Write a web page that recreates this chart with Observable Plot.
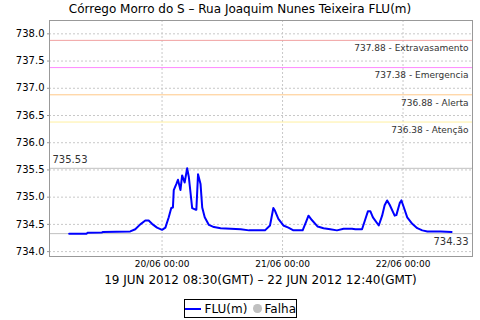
<!DOCTYPE html>
<html><head><meta charset="utf-8">
<script src="https://cdn.jsdelivr.net/npm/d3@7"></script>
<script src="https://cdn.jsdelivr.net/npm/@observablehq/plot@0.6"></script>
<style>
body{margin:0;background:#fff;font-family:"DejaVu Sans",sans-serif;color:#000}
#wrap{width:480px;height:320px;position:relative;overflow:hidden}
#title{height:18px;line-height:18px;text-align:center;font-size:12px}
#chart svg{display:block}
#sub{height:16px;line-height:16px;font-size:12px;text-align:center;width:423px;margin-left:49px}
#legend{position:absolute;left:184px;top:299px;width:111px;height:17px;border:1px solid #000;display:flex;align-items:center;justify-content:center;font-size:12px;gap:3px;box-sizing:content-box}
.dot{display:inline-block;width:9px;height:9px;border-radius:50%;background:#c0c0c0;margin-left:3px}
</style></head><body>
<div id="wrap">
<div id="title">Córrego Morro do S – Rua Joaquim Nunes Teixeira FLU(m)</div>
<div id="chart"></div>
<div id="sub">19 JUN 2012 08:30(GMT) – 22 JUN 2012 12:40(GMT)</div>
<div id="legend"><svg width="18" height="4"><line x1="0" y1="2" x2="18" y2="2" stroke="#0000ff" stroke-width="2"/></svg><span>FLU(m)</span><span class="dot"></span><span>Falha</span></div>
</div>
<script>
const times = ["2012-06-19T05:30","2012-06-19T09:00","2012-06-19T09:10","2012-06-19T12:00","2012-06-19T12:10","2012-06-19T17:40","2012-06-19T18:40","2012-06-19T19:40","2012-06-19T20:40","2012-06-19T21:20","2012-06-19T22:00","2012-06-19T23:00","2012-06-20T00:00","2012-06-20T00:40","2012-06-20T01:20","2012-06-20T01:50","2012-06-20T02:10","2012-06-20T02:20","2012-06-20T02:50","2012-06-20T03:10","2012-06-20T03:40","2012-06-20T04:00","2012-06-20T04:30","2012-06-20T05:00","2012-06-20T05:20","2012-06-20T06:00","2012-06-20T06:40","2012-06-20T06:50","2012-06-20T07:10","2012-06-20T07:40","2012-06-20T08:00","2012-06-20T08:30","2012-06-20T09:20","2012-06-20T10:20","2012-06-20T11:40","2012-06-20T13:40","2012-06-20T15:40","2012-06-20T17:20","2012-06-20T20:30","2012-06-20T21:30","2012-06-20T22:10","2012-06-20T22:30","2012-06-20T23:10","2012-06-21T00:10","2012-06-21T01:10","2012-06-21T02:10","2012-06-21T04:00","2012-06-21T04:40","2012-06-21T05:10","2012-06-21T05:50","2012-06-21T07:00","2012-06-21T08:10","2012-06-21T09:30","2012-06-21T10:50","2012-06-21T12:10","2012-06-21T13:50","2012-06-21T14:30","2012-06-21T15:50","2012-06-21T16:30","2012-06-21T17:00","2012-06-21T17:30","2012-06-21T18:00","2012-06-21T19:10","2012-06-21T19:50","2012-06-21T20:20","2012-06-21T20:50","2012-06-21T21:20","2012-06-21T22:20","2012-06-21T22:40","2012-06-21T23:20","2012-06-21T23:40","2012-06-22T00:10","2012-06-22T00:50","2012-06-22T01:50","2012-06-22T02:50","2012-06-22T03:50","2012-06-22T04:50","2012-06-22T07:30","2012-06-22T09:40"];
const levels = [734.33,734.33,734.345,734.35,734.36,734.37,734.41,734.50,734.57,734.57,734.51,734.44,734.40,734.44,734.63,734.80,734.81,735.13,735.24,735.32,735.13,735.40,735.27,735.53,735.37,734.80,734.77,734.77,735.42,735.24,734.81,734.63,734.49,734.45,734.43,734.42,734.41,734.39,734.39,734.48,734.80,734.75,734.60,734.48,734.44,734.39,734.39,734.54,734.66,734.58,734.46,734.43,734.41,734.39,734.42,734.42,734.41,734.41,734.60,734.74,734.74,734.63,734.48,734.66,734.85,734.94,734.86,734.66,734.67,734.89,734.94,734.81,734.63,734.51,734.43,734.39,734.37,734.37,734.36];
const thresholdValues = [737.88, 737.38, 736.88, 736.38];
const thresholdNames = ["Extravasamento", "Emergencia", "Alerta", "Atenção"];
const thresholdColors = ["#f0a0a0", "#ff88ff", "#ffc888", "#fff0a0"];
const maxValue = 735.53;
const minValue = 734.33;
const yTicks = [734.0, 734.5, 735.0, 735.5, 736.0, 736.5, 737.0, 737.5, 738.0];
const xTicks = ["2012-06-20T00:00", "2012-06-21T00:00", "2012-06-22T00:00"];
const xDomain = ["2012-06-19T01:35", "2012-06-22T13:50"];
const yDomain = [733.91, 738.245];

const P = s => new Date(s + ":00Z");
const data = times.map((t, i) => ({t: P(t), v: levels[i]}));
const xT = xTicks.map(P);
const xD = xDomain.map(P);
const thr = thresholdValues.map((v, i) => ({v, label: `${v.toFixed(2)} - ${thresholdNames[i]}`, c: thresholdColors[i]}));
const fmt = d3.utcFormat("%d/%m %H:%M");

const chart = Plot.plot({
  width: 480, height: 254,
  marginLeft: 49, marginRight: 8, marginTop: 2, marginBottom: 16,
  style: {fontFamily: "DejaVu Sans, sans-serif", fontSize: "9px", background: "#fff", color: "#000"},
  x: {type: "utc", domain: xD, label: null},
  y: {domain: yDomain, label: null},
  marks: [
    Plot.ruleY(yTicks, {stroke: "#c8c8c8", strokeDasharray: "2,2"}),
    Plot.ruleX(xT, {stroke: "#c8c8c8", strokeDasharray: "2,2"}),
    ...thr.map(d => Plot.ruleY([d.v], {stroke: d.c, strokeWidth: 1})),
    Plot.ruleY([maxValue, minValue], {stroke: "#c0c0c0"}),
    Plot.text(thr, {x: xD[1], y: "v", text: "label", textAnchor: "end", dx: -4, dy: 8, fill: "#333"}),
    Plot.text([maxValue], {x: xD[0], y: d => d, text: d => d.toFixed(2), textAnchor: "start", dx: 3, dy: -9, fill: "#333", fontSize: 10}),
    Plot.text([minValue], {x: xD[1], y: d => d, text: d => d.toFixed(2), textAnchor: "end", dx: -4, dy: 8, fill: "#333", fontSize: 10}),
    Plot.line(data, {x: "t", y: "v", stroke: "#0000ff", strokeWidth: 2}),
    Plot.frame({stroke: "#999"}),
    Plot.axisY({ticks: yTicks, tickFormat: d3.format(".1f"), tickSize: 2, tickPadding: 3, fontSize: 10, stroke: "#999", label: null}),
    Plot.axisX({ticks: xT, tickFormat: fmt, tickSize: 2, tickPadding: 2, stroke: "#999", label: null})
  ]
});
document.getElementById("chart").appendChild(chart);
</script>
</body></html>
